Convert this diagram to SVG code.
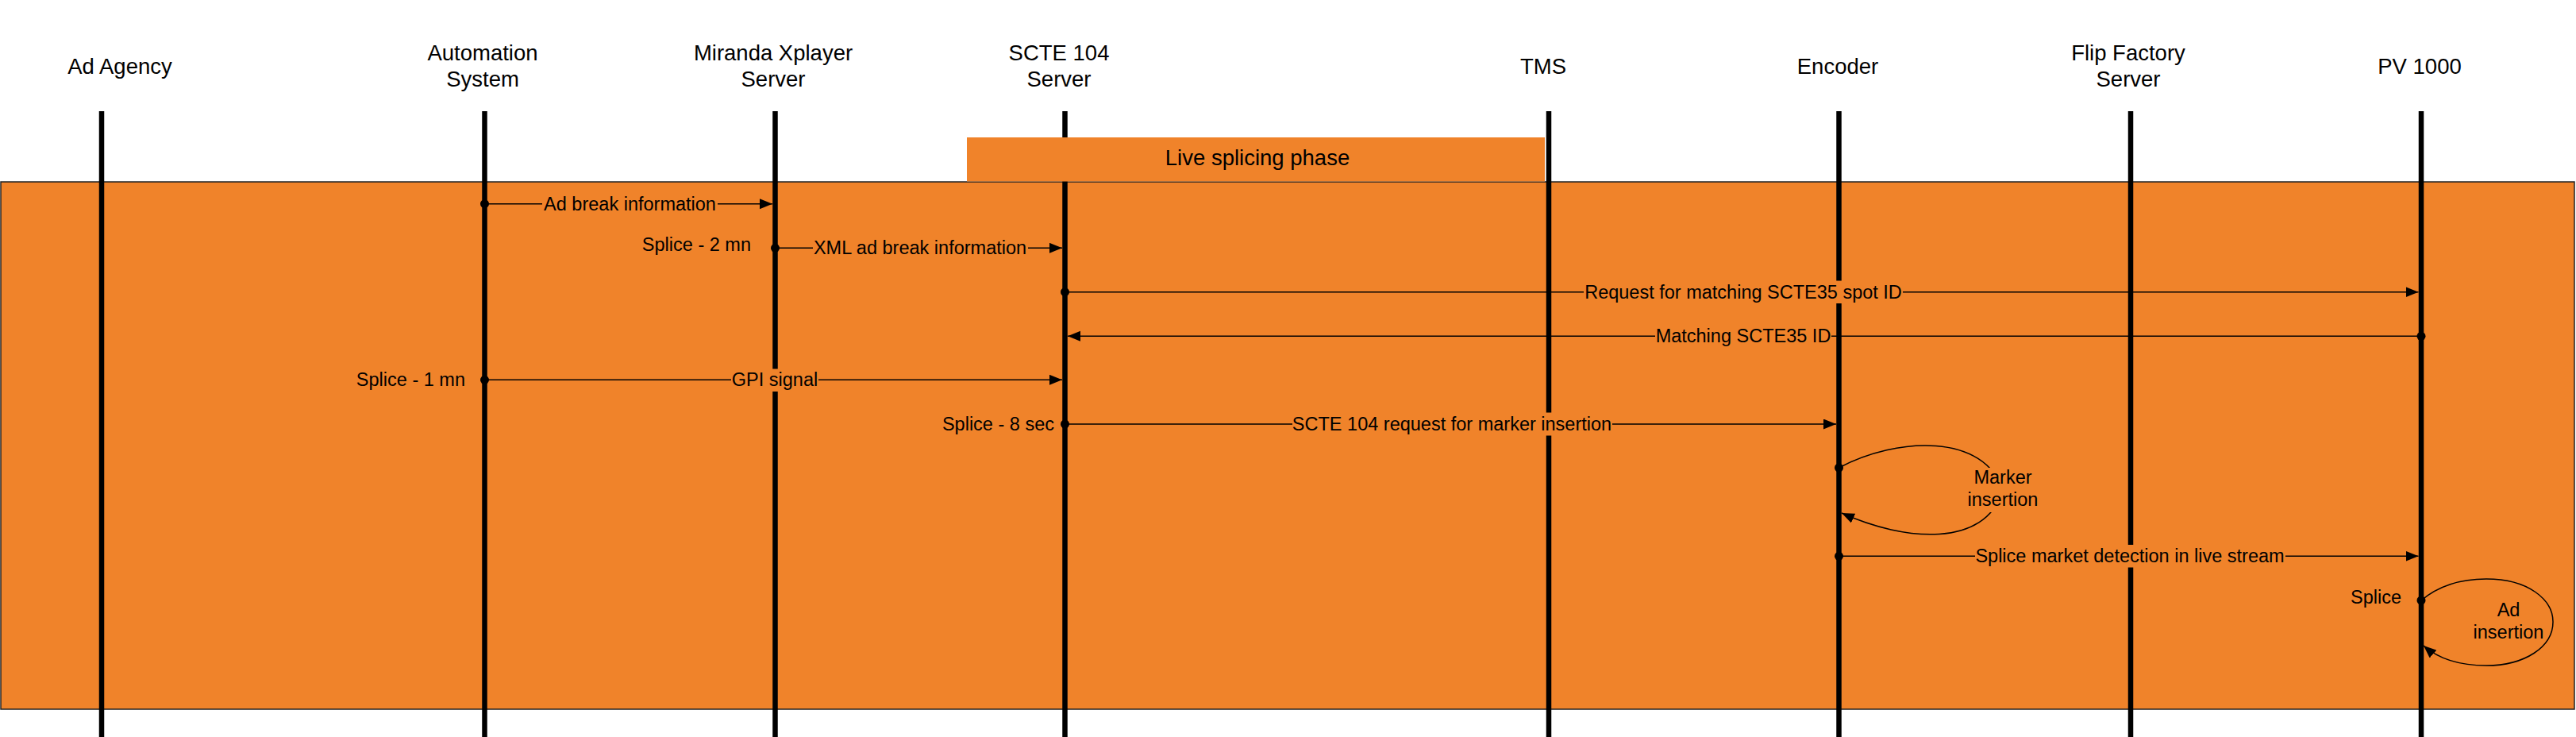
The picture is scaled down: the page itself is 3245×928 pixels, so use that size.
<svg xmlns="http://www.w3.org/2000/svg" width="3245" height="928" viewBox="0 0 3245 928">
<style>
.hdr{font-family:"Liberation Sans",Arial,sans-serif;font-size:27.5px;fill:#000;text-anchor:middle}
.lbl{font-family:"Liberation Sans",Arial,sans-serif;font-size:23.5px;fill:#000;text-anchor:middle}
.side{font-family:"Liberation Sans",Arial,sans-serif;font-size:23.5px;fill:#000;text-anchor:end}
.life{stroke:#000;stroke-width:6.5;fill:none}
.msg{stroke:#000;stroke-width:1.5;fill:none}
.arr{marker-end:url(#ah)}
.bg{fill:#F0832A}
.dot{fill:#000}
</style>
<defs>
<marker id="ah" markerUnits="userSpaceOnUse" markerWidth="17" markerHeight="14" refX="16" refY="6.5" orient="auto">
<path d="M0,0 L16,6.5 L0,13 z" fill="#000"/>
</marker>
</defs>
<rect width="3245" height="928" fill="#fff"/>
<g id="phase-band">
<rect x="1" y="229" width="3242" height="664" fill="#F0832A" stroke="#222" stroke-width="1.5"/>
</g>
<g id="lifelines">
<g id="ll-ad-agency"><line class="life" x1="128" y1="140" x2="128" y2="928"/><text class="hdr" x="151" y="93">Ad Agency</text></g>
<g id="ll-automation"><line class="life" x1="610.5" y1="140" x2="610.5" y2="928"/><text class="hdr" x="608" y="76">Automation</text><text class="hdr" x="608" y="109">System</text></g>
<g id="ll-miranda"><line class="life" x1="976.5" y1="140" x2="976.5" y2="928"/><text class="hdr" x="974" y="76">Miranda Xplayer</text><text class="hdr" x="974" y="109">Server</text></g>
<g id="ll-scte104"><line class="life" x1="1341.5" y1="140" x2="1341.5" y2="928"/><text class="hdr" x="1334" y="76">SCTE 104</text><text class="hdr" x="1334" y="109">Server</text></g>
<g id="ll-tms"><line class="life" x1="1951" y1="140" x2="1951" y2="928"/><text class="hdr" x="1944" y="93">TMS</text></g>
<g id="ll-encoder"><line class="life" x1="2316.5" y1="140" x2="2316.5" y2="928"/><text class="hdr" x="2315" y="93">Encoder</text></g>
<g id="ll-flip"><line class="life" x1="2684" y1="140" x2="2684" y2="928"/><text class="hdr" x="2681" y="76">Flip Factory</text><text class="hdr" x="2681" y="109">Server</text></g>
<g id="ll-pv1000"><line class="life" x1="3050" y1="140" x2="3050" y2="928"/><text class="hdr" x="3048" y="93">PV 1000</text></g>
</g>
<g id="live-phase">
<rect x="1218" y="173" width="728" height="55.5" fill="#F0832A"/>
<text class="hdr" x="1584" y="208">Live splicing phase</text>
</g>
<g id="connectors">
<g id="m1"><line class="msg arr" x1="610.5" y1="256.7" x2="973" y2="256.7"/><circle class="dot" cx="610.5" cy="256.7" r="5.5"/><rect class="bg" x="683" y="243" width="221" height="28"/><text class="lbl" x="793.5" y="264.5">Ad break information</text></g>
<g id="m2"><line class="msg arr" x1="976.5" y1="312.3" x2="1338" y2="312.3"/><circle class="dot" cx="976.5" cy="312.3" r="5.5"/><rect class="bg" x="1024" y="298" width="271" height="28"/><text class="lbl" x="1159" y="320">XML ad break information</text><text class="side" x="946" y="316">Splice - 2 mn</text></g>
<g id="m3"><line class="msg arr" x1="1341.5" y1="367.7" x2="3046.5" y2="367.7"/><circle class="dot" cx="1341.5" cy="367.7" r="5.5"/><rect class="bg" x="1995" y="353.5" width="402" height="28.5"/><text class="lbl" x="2196" y="375.5">Request for matching SCTE35 spot ID</text></g>
<g id="m4"><line class="msg arr" x1="3050" y1="423.3" x2="1345" y2="423.3"/><circle class="dot" cx="3050" cy="423.3" r="5.5"/><rect class="bg" x="2085" y="409" width="222" height="28"/><text class="lbl" x="2196" y="431">Matching SCTE35 ID</text></g>
<g id="m5"><line class="msg arr" x1="610.5" y1="478.3" x2="1338" y2="478.3"/><circle class="dot" cx="610.5" cy="478.3" r="5.5"/><rect class="bg" x="921" y="464.5" width="110" height="28.5"/><text class="lbl" x="976" y="486">GPI signal</text><text class="side" x="586" y="486">Splice - 1 mn</text></g>
<g id="m6"><line class="msg arr" x1="1341.5" y1="534" x2="2313" y2="534"/><circle class="dot" cx="1341.5" cy="534" r="5.5"/><rect class="bg" x="1628" y="519.5" width="403" height="29"/><text class="lbl" x="1829" y="542">SCTE 104 request for marker insertion</text><text class="side" x="1328" y="542">Splice - 8 sec</text></g>
<g id="m7"><path class="msg arr" d="M2316.5,589 C2390,550 2500,545 2523,618 C2500,690 2400,682 2320,646"/><circle class="dot" cx="2316.5" cy="589" r="5.5"/><rect class="bg" x="2478" y="589" width="90" height="56"/><text class="lbl" x="2523" y="609">Marker</text><text class="lbl" x="2523" y="637">insertion</text></g>
<g id="m8"><line class="msg arr" x1="2316.5" y1="700.3" x2="3046.5" y2="700.3"/><circle class="dot" cx="2316.5" cy="700.3" r="5.5"/><rect class="bg" x="2488" y="686" width="391" height="28.5"/><text class="lbl" x="2683" y="708">Splice market detection in live stream</text></g>
<g id="m9"><path class="msg arr" d="M3050,756 C3075,735 3105,729 3132,729 C3185,729 3216,755 3216,783 C3216,815 3180,838 3132,838 C3095,838 3070,828 3053,813"/><circle class="dot" cx="3050" cy="756" r="5.5"/><rect class="bg" x="3115" y="757" width="90" height="52"/><text class="lbl" x="3160" y="776">Ad</text><text class="lbl" x="3160" y="803.5">insertion</text><text class="side" x="3025" y="760">Splice</text></g>
</g>
</svg>
